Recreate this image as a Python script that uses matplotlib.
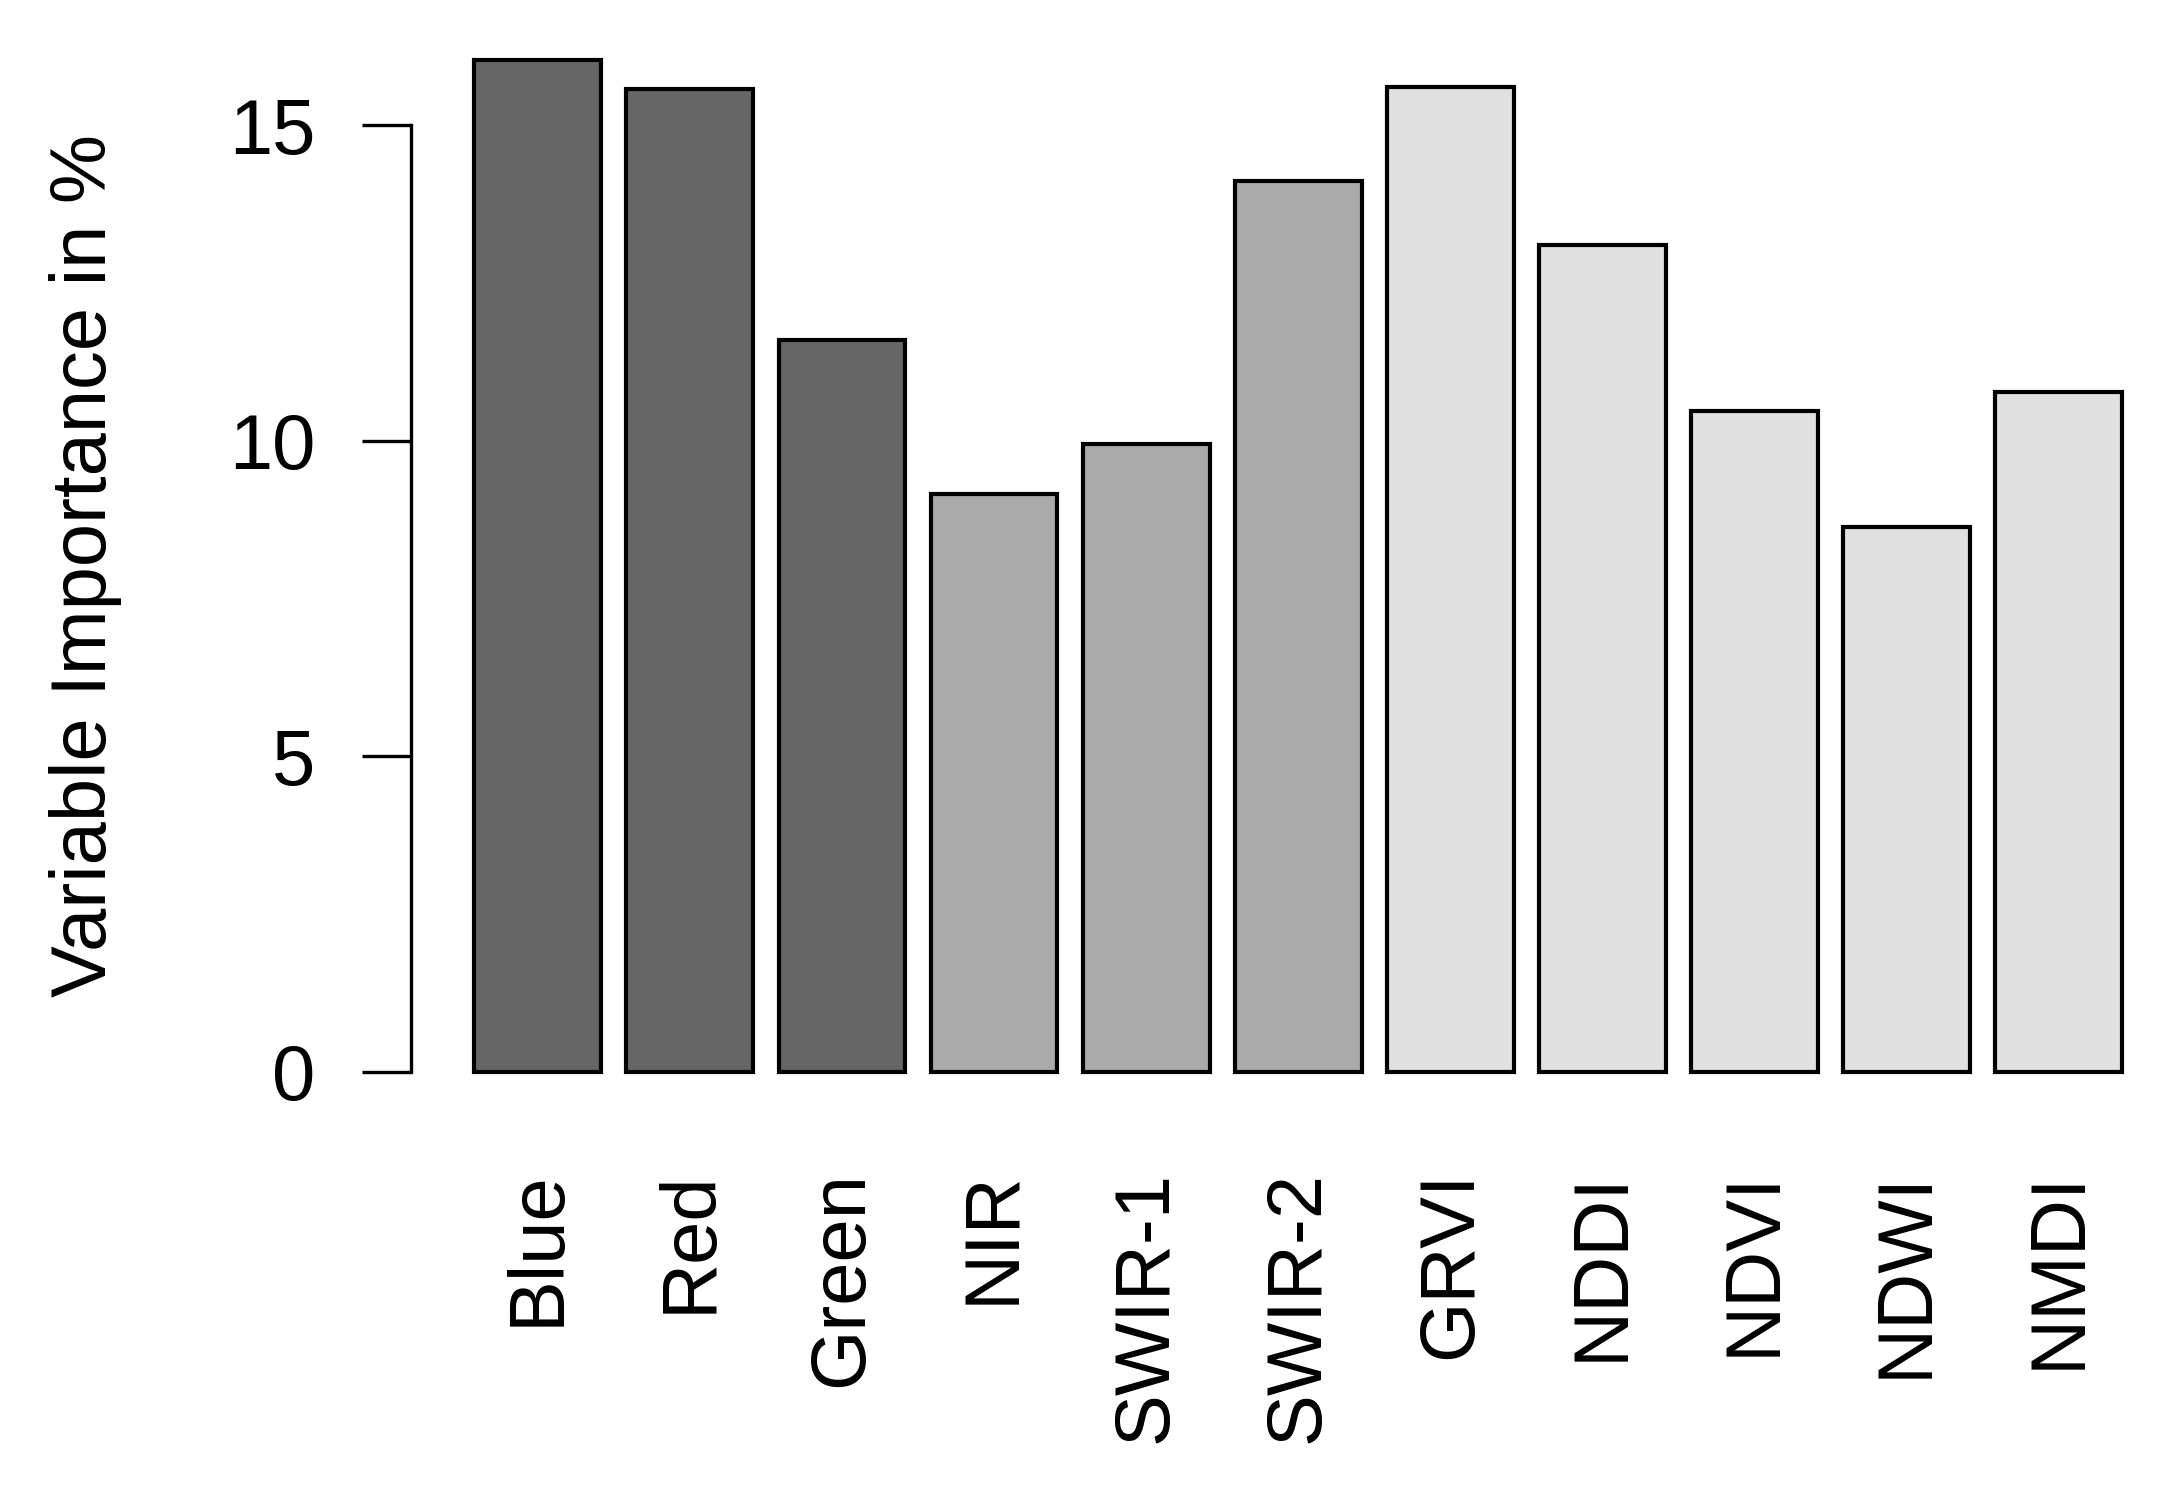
"""Variable importance of bands and indices, drawn in the style of an R barplot."""

import matplotlib
matplotlib.use("Agg")
import matplotlib.pyplot as plt

plt.rcParams["font.family"] = ["Liberation Sans", "DejaVu Sans"]

# Data
variables = ["Blue", "Red", "Green", "NIR", "SWIR-1", "SWIR-2",
             "GRVI", "NDDI", "NDVI", "NDWI", "NMDI"]
importance = [16.03, 15.57, 11.60, 9.16, 9.94, 14.12,
              15.61, 13.10, 10.47, 8.64, 10.77]
groups = ["band"] * 3 + ["swir"] * 3 + ["index"] * 5
group_colors = {"band": "#666666", "swir": "#aaaaaa", "index": "#e0e0e0"}
yticks = [0, 5, 10, 15]

W, H, DPI = 2171, 1492, 100
fig = plt.figure(figsize=(W / DPI, H / DPI), dpi=DPI)

# plot region in pixels (from top-left)
left_px, right_px = 411, 2171
top_px, bottom_px = 19.6, 1112.4
ax = fig.add_axes([left_px / W, 1 - bottom_px / H,
                   (right_px - left_px) / W, (bottom_px - top_px) / H])

# R barplot positions: width 1, space 0.2
centers = [0.7 + 1.2 * i for i in range(len(variables))]
colors = [group_colors[g] for g in groups]
ax.bar(centers, importance, width=1.0, color=colors,
       edgecolor="black", linewidth=3.0)

ax.set_xlim(-0.30, 13.586)
ax.set_ylim(-0.64, 16.67)

for side in ["top", "right", "bottom"]:
    ax.spines[side].set_visible(False)
ax.spines["left"].set_bounds(0, 15)
ax.spines["left"].set_linewidth(2.4)

ax.set_yticks(yticks)
ax.set_yticklabels([str(t) for t in yticks], fontsize=56)
ax.tick_params(axis="y", length=35, width=2.4, pad=34)

ax.set_xticks(centers)
ax.set_xticklabels(variables, rotation=90, fontsize=56)
ax.tick_params(axis="x", length=0, pad=42)

fig.text(86 / W, 1 - 566 / H, "Variable Importance in %", rotation=90,
         ha="center", va="center", fontsize=56)

fig.savefig("out.png", dpi=DPI)
